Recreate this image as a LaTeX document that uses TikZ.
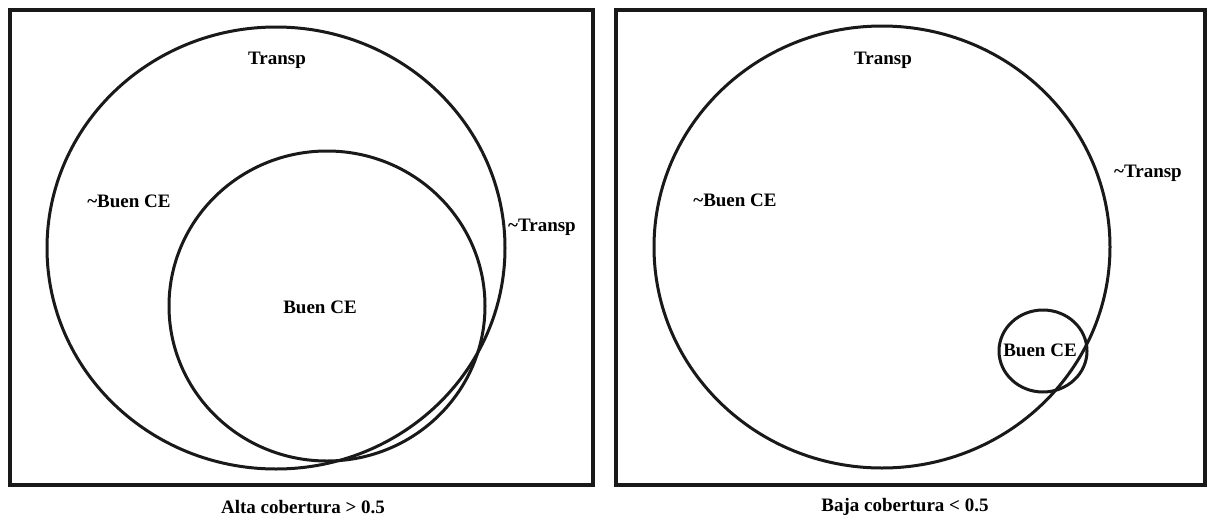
\documentclass[tikz,border=0pt]{standalone}
\usepackage{fontspec}
\setmainfont{Liberation Serif}
\begin{document}
\begin{tikzpicture}[x=1pt,y=-1pt,
  lbl/.style={font=\fontsize{19}{21}\selectfont\bfseries, inner sep=0pt, anchor=center},
  frame/.style={line width=3.2pt, draw=black!90},
  ring/.style={line width=3pt, draw=black!90}]
\useasboundingbox[fill=white] (0,0) rectangle (1208,520);
% frames
\draw[frame] (10,10) rectangle (593,485);
\draw[frame] (616,10) rectangle (1205,485);
% left panel
\draw[ring] (276,248) ellipse [x radius=229, y radius=221];
\draw[ring] (327,306) ellipse [x radius=158, y radius=155];
\node[lbl] (lT) at (277,60) {Transp};
\node[lbl] (lnB) at (129,201) {\char`\~Buen CE};
\node[lbl] (lnT) at (542,227) {\char`\~Transp};
\node[lbl] (lB) at (320,307) {Buen CE};
\node[lbl] (lcap) at (303,507) {Alta cobertura > 0.5};
% right panel
\draw[ring] (882,247) ellipse [x radius=228, y radius=221];
\draw[ring] (1043,351) ellipse [x radius=44, y radius=41];
\node[lbl] (rT) at (883,60) {Transp};
\node[lbl] (rnB) at (735,200) {\char`\~Buen CE};
\node[lbl] (rnT) at (1148,173) {\char`\~Transp};
\node[lbl] (rB) at (1040,350) {Buen CE};
\node[lbl] (rcap) at (905,507) {Baja cobertura < 0.5};
\end{tikzpicture}
\end{document}
